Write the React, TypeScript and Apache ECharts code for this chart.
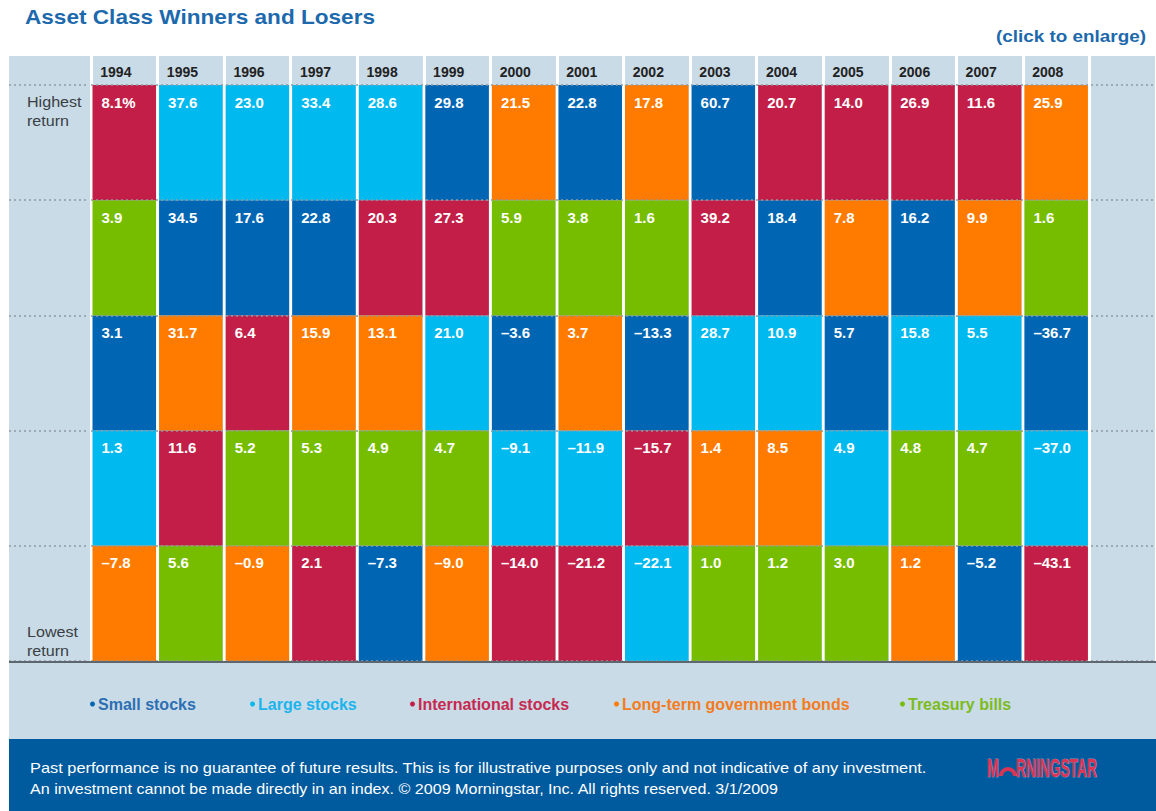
import React, { useEffect, useRef } from 'react';
import * as echarts from 'echarts';

// ---------- data ----------
const years = ['1994', '1995', '1996', '1997', '1998', '1999', '2000', '2001', '2002', '2003', '2004', '2005', '2006', '2007', '2008'];
const assetClasses = ['Small stocks', 'Large stocks', 'International stocks', 'Long-term government bonds', 'Treasury bills'];
const classCodes = ['S', 'L', 'I', 'B', 'T'];
const rankLabels = ['1', '2', '3', '4', '5'];

const rank1Class = ['I', 'L', 'L', 'L', 'L', 'S', 'B', 'S', 'B', 'S', 'I', 'I', 'I', 'I', 'B'];
const rank1Value = [8.1, 37.6, 23.0, 33.4, 28.6, 29.8, 21.5, 22.8, 17.8, 60.7, 20.7, 14.0, 26.9, 11.6, 25.9];
const rank2Class = ['T', 'S', 'S', 'S', 'I', 'I', 'T', 'T', 'T', 'I', 'S', 'B', 'S', 'B', 'T'];
const rank2Value = [3.9, 34.5, 17.6, 22.8, 20.3, 27.3, 5.9, 3.8, 1.6, 39.2, 18.4, 7.8, 16.2, 9.9, 1.6];
const rank3Class = ['S', 'B', 'I', 'B', 'B', 'L', 'S', 'B', 'S', 'L', 'L', 'S', 'L', 'L', 'S'];
const rank3Value = [3.1, 31.7, 6.4, 15.9, 13.1, 21.0, -3.6, 3.7, -13.3, 28.7, 10.9, 5.7, 15.8, 5.5, -36.7];
const rank4Class = ['L', 'I', 'T', 'T', 'T', 'T', 'L', 'L', 'I', 'B', 'B', 'L', 'T', 'T', 'L'];
const rank4Value = [1.3, 11.6, 5.2, 5.3, 4.9, 4.7, -9.1, -11.9, -15.7, 1.4, 8.5, 4.9, 4.8, 4.7, -37.0];
const rank5Class = ['B', 'T', 'B', 'I', 'S', 'B', 'I', 'I', 'L', 'T', 'T', 'T', 'B', 'S', 'I'];
const rank5Value = [-7.8, 5.6, -0.9, 2.1, -7.3, -9.0, -14.0, -21.2, -22.1, 1.0, 1.2, 3.0, 1.2, -5.2, -43.1];

// ---------- styles ----------
const classColors = ['#0066b3', '#00b9ef', '#c21e47', '#ff7b00', '#76bd00'];
const legendTextColors = ['#2c6fb2', '#1cb4ec', '#c62a50', '#f47b20', '#7dbb1c'];
const legendLeft = [90, 250, 410, 614, 900];
const FONT = '"Liberation Sans", Arial, Helvetica, sans-serif';

const rankClasses = [rank1Class, rank2Class, rank3Class, rank4Class, rank5Class];
const rankValues = [rank1Value, rank2Value, rank3Value, rank4Value, rank5Value];

function fmt(v: number, yi: number, ri: number) {
  const s = (v < 0 ? '\u2013' : '') + Math.abs(v).toFixed(1);
  return yi === 0 && ri === 0 ? s + '%' : s;
}

function buildSeries() {
  return classCodes.map((code, ci) => {
    const data: any[] = [];
    rankClasses.forEach((arr, ri) => {
      arr.forEach((c, yi) => {
        if (c === code) data.push([yi, ri, rankValues[ri][yi], fmt(rankValues[ri][yi], yi, ri)]);
      });
    });
    return {
      type: 'custom',
      name: assetClasses[ci],
      xAxisIndex: 0,
      yAxisIndex: 0,
      itemStyle: { color: classColors[ci] },
      data,
      renderItem: (params: any, api: any) => {
        const c = api.coord([api.value(0), api.value(1)]);
        const size = api.size([1, 1]);
        const left = c[0] - size[0] / 2 + 1.5;
        const top = c[1] - size[1] / 2;
        const label = data[params.dataIndex][3];
        return {
          type: 'group',
          children: [
            { type: 'rect', shape: { x: left, y: top, width: size[0] - 3, height: size[1] }, style: { fill: classColors[ci] } },
            {
              type: 'text',
              x: left + 9,
              y: top + 17,
              style: { text: label, fill: '#ffffff', font: `bold 15px ${FONT}`, verticalAlign: 'middle', align: 'left' },
            },
          ],
        };
      },
    };
  });
}

export default function App() {
  const ref = useRef<HTMLDivElement>(null);
  useEffect(() => {
    if (!ref.current) return;
    const chart = echarts.init(ref.current, undefined, { renderer: 'svg' });
    const cats = [...years, ''];
    const dotted = { show: true, interval: 0, lineStyle: { color: '#8f9aa3', width: 1.5, type: [2, 3] as any } };
    const white = { show: true, interval: 0, lineStyle: { color: '#ffffff', width: 3 } };
    const sideLabel = (text: string, y: number) => ({
      type: 'text', z: 100, x: 27, y, scaleX: 1.15,
      style: { text, fill: '#3a3f44', font: `14px ${FONT}`, verticalAlign: 'middle' },
    });
    chart.setOption({
      animation: false,
      backgroundColor: '#ffffff',
      textStyle: { fontFamily: FONT },
      grid: [
        { left: 91, right: 0, top: 85, bottom: 150 },
        { left: 91, right: 0, top: 56, height: 29 },
        { left: 9, width: 80, top: 85, bottom: 150 },
      ],
      xAxis: [
        {
          gridIndex: 0, type: 'category', data: cats, position: 'top',
          axisLine: { show: false }, axisTick: { show: false },
          axisLabel: {
            interval: 0, margin: 6,
            formatter: (v: string) => (v ? `{y|${v}}` : ''),
            rich: { y: { width: 48, align: 'left', fontFamily: FONT, fontWeight: 'bold', fontSize: 14, color: '#222222' } },
          },
          splitLine: white,
        },
        {
          gridIndex: 1, type: 'category', data: cats,
          axisLine: { show: false }, axisTick: { show: false }, axisLabel: { show: false },
          splitLine: white,
        },
        { gridIndex: 2, type: 'value', show: false },
      ],
      yAxis: [
        {
          gridIndex: 0, type: 'category', data: rankLabels, inverse: true, z: 5,
          axisLine: { show: false }, axisTick: { show: false }, axisLabel: { show: false },
          splitLine: dotted,
        },
        { gridIndex: 1, type: 'category', data: [''], show: false },
        {
          gridIndex: 2, type: 'category', data: rankLabels, inverse: true,
          axisLine: { show: false }, axisTick: { show: false }, axisLabel: { show: false },
          splitLine: dotted,
        },
      ],
      legend: assetClasses.map((name, i) => ({
        data: [{ name, textStyle: { color: legendTextColors[i] } }],
        left: legendLeft[i],
        top: 696,
        padding: 0,
        icon: 'circle',
        itemWidth: 5,
        itemHeight: 5,
        selectedMode: false,
        textStyle: { fontFamily: FONT, fontWeight: 'bold', fontSize: 16, padding: [0, 0, 0, -2] },
      })),
      graphic: [
        { type: 'rect', z: -10, shape: { x: 9, y: 56, width: 1147, height: 684 }, style: { fill: '#c9dbe7' } },
        { type: 'rect', z: 100, shape: { x: 9, y: 661, width: 1147, height: 2 }, style: { fill: '#5e666e' } },
        { type: 'rect', z: 100, shape: { x: 9, y: 739, width: 1147, height: 72 }, style: { fill: '#005a9e' } },
        { type: 'text', z: 100, x: 25, y: 17, scaleX: 1.13, style: { text: 'Asset Class Winners and Losers', fill: '#1c69ad', font: `bold 20px ${FONT}`, verticalAlign: 'middle' } },
        { type: 'text', z: 100, x: 1146, y: 37, scaleX: 1.18, style: { text: '(click to enlarge)', fill: '#1c69ad', font: `bold 16px ${FONT}`, align: 'right', verticalAlign: 'middle' } },
        sideLabel('Highest', 102),
        sideLabel('return', 121),
        sideLabel('Lowest', 632),
        sideLabel('return', 651),
        {
          type: 'text', z: 100, x: 30, y: 768, scaleX: 1.17,
          style: { text: 'Past performance is no guarantee of future results. This is for illustrative purposes only and not indicative of any investment.', fill: '#ffffff', font: `14px ${FONT}`, verticalAlign: 'middle' },
        },
        {
          type: 'text', z: 100, x: 30, y: 789, scaleX: 1.15,
          style: { text: 'An investment cannot be made directly in an index. \u00a9 2009 Morningstar, Inc. All rights reserved. 3/1/2009', fill: '#ffffff', font: `14px ${FONT}`, verticalAlign: 'middle' },
        },
        { type: 'text', z: 100, x: 987, y: 768, scaleX: 0.55, style: { text: 'M', fill: '#dc3554', font: `bold 26px ${FONT}`, verticalAlign: 'middle', stroke: '#f5c6cf', lineWidth: 0.6 } },
        { type: 'arc', z: 100, shape: { cx: 1008, cy: 776, r: 7, startAngle: Math.PI, endAngle: Math.PI * 2 }, style: { stroke: '#dc3554', lineWidth: 4, fill: 'none' } },
        { type: 'text', z: 100, x: 1016, y: 768, scaleX: 0.53, style: { text: 'RNINGSTAR', fill: '#dc3554', font: `bold 26px ${FONT}`, verticalAlign: 'middle', stroke: '#f5c6cf', lineWidth: 0.6 } },
      ],
      series: buildSeries(),
    });
    return () => chart.dispose();
  }, []);
  return <div ref={ref} style={{ position: 'fixed', left: 0, top: 0, width: 1156, height: 811 }} />;
}
